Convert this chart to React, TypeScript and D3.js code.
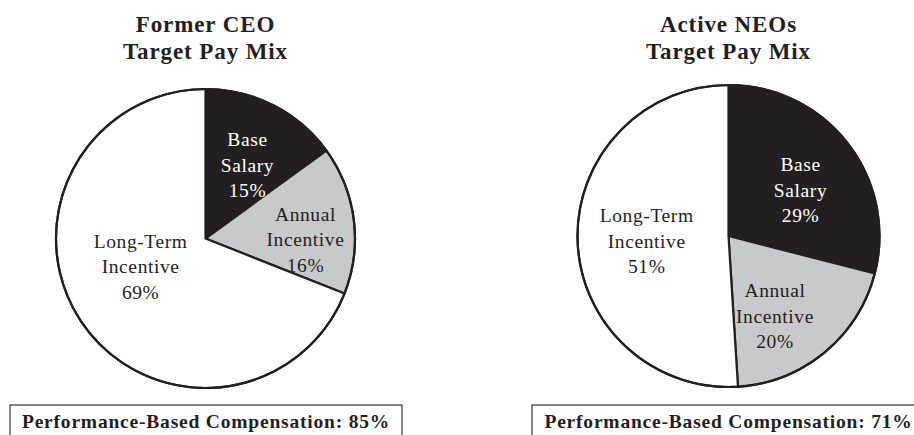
import React from "react";
import * as d3 from "d3";

const categories = ["Base Salary", "Annual Incentive", "Long-Term Incentive"];
const labelLines = [["Base", "Salary"], ["Annual", "Incentive"], ["Long-Term", "Incentive"]];
const chartTitles = [["Former CEO", "Target Pay Mix"], ["Active NEOs", "Target Pay Mix"]];
const formerCeoValues = [15, 16, 69];
const activeNeoValues = [29, 20, 51];
const performanceBased = [85, 71];

const W = 914;
const H = 435;
const FONT = '"Liberation Serif", "Times New Roman", serif';
const INK = "#231f20";
const FILLS = ["#231f20", "#c8c9cb", "#ffffff"];
const TEXT_FILLS = ["#ffffff", INK, INK];

// layout per chart: center, radius, label polar placement (angle deg, radius)
const layouts = [
  { cx: 205.5, cy: 238.5, r: 149.5, labelPolar: [[30, 84], [91, 100], [246, 71]], box: [10, 402] },
  { cx: 728.5, cy: 236, r: 151, labelPolar: [[58, 85], [150, 93], [266, 82]], box: [532, 925] },
];

function Pie({ values, idx }: { values: number[]; idx: number }) {
  const L = layouts[idx];
  const pie = d3.pie<number>().sort(null).value((d) => d);
  const arcs = pie(values);
  const arc = d3.arc<d3.PieArcDatum<number>>().innerRadius(0).outerRadius(L.r);
  const lineH = 25.5;
  return (
    <g>
      {chartTitles[idx].map((t, i) => (
        <text key={t + i} x={L.cx} y={31.5 + i * 27.5} textAnchor="middle" fontFamily={FONT} fontWeight="bold" fontSize={23} letterSpacing={0.9} fill={INK}>
          {t}
        </text>
      ))}
      <g transform={`translate(${L.cx},${L.cy})`}>
        {arcs.map((a, i) => (
          <path key={categories[i]} d={arc(a) || ""} fill={FILLS[i]} stroke={INK} strokeWidth={2.2} strokeLinejoin="round" />
        ))}
        <circle r={L.r} fill="none" stroke={INK} strokeWidth={2.2} />
        {arcs.map((a, i) => {
          const [deg, rr] = L.labelPolar[i];
          const th = (deg * Math.PI) / 180;
          const x = rr * Math.sin(th);
          const y = -rr * Math.cos(th);
          const lines = [...labelLines[i], `${values[i]}%`];
          return (
            <text key={"l" + i} textAnchor="middle" fontFamily={FONT} fontSize={19.5} letterSpacing={0.6} fill={TEXT_FILLS[i]}>
              {lines.map((ln, j) => (
                <tspan key={j} x={x} y={y + (j - 1) * lineH + 6}>
                  {ln}
                </tspan>
              ))}
            </text>
          );
        })}
      </g>
      <rect x={L.box[0]} y={405} width={L.box[1] - L.box[0]} height={60} fill="none" stroke="#333" strokeWidth={1.2} />
      <text x={(L.box[0] + L.box[1]) / 2} y={427.5} textAnchor="middle" fontFamily={FONT} fontWeight="bold" fontSize={19.5} letterSpacing={0.8} fill={INK}>
        {`Performance-Based Compensation: ${performanceBased[idx]}%`}
      </text>
    </g>
  );
}

export default function App() {
  return (
    <div style={{ position: "fixed", left: 0, top: 0 }}>
      <svg width={W} height={H} style={{ display: "block", background: "#fff" }}>
        <rect width={W} height={H} fill="#fff" />
        <Pie values={formerCeoValues} idx={0} />
        <Pie values={activeNeoValues} idx={1} />
      </svg>
    </div>
  );
}
